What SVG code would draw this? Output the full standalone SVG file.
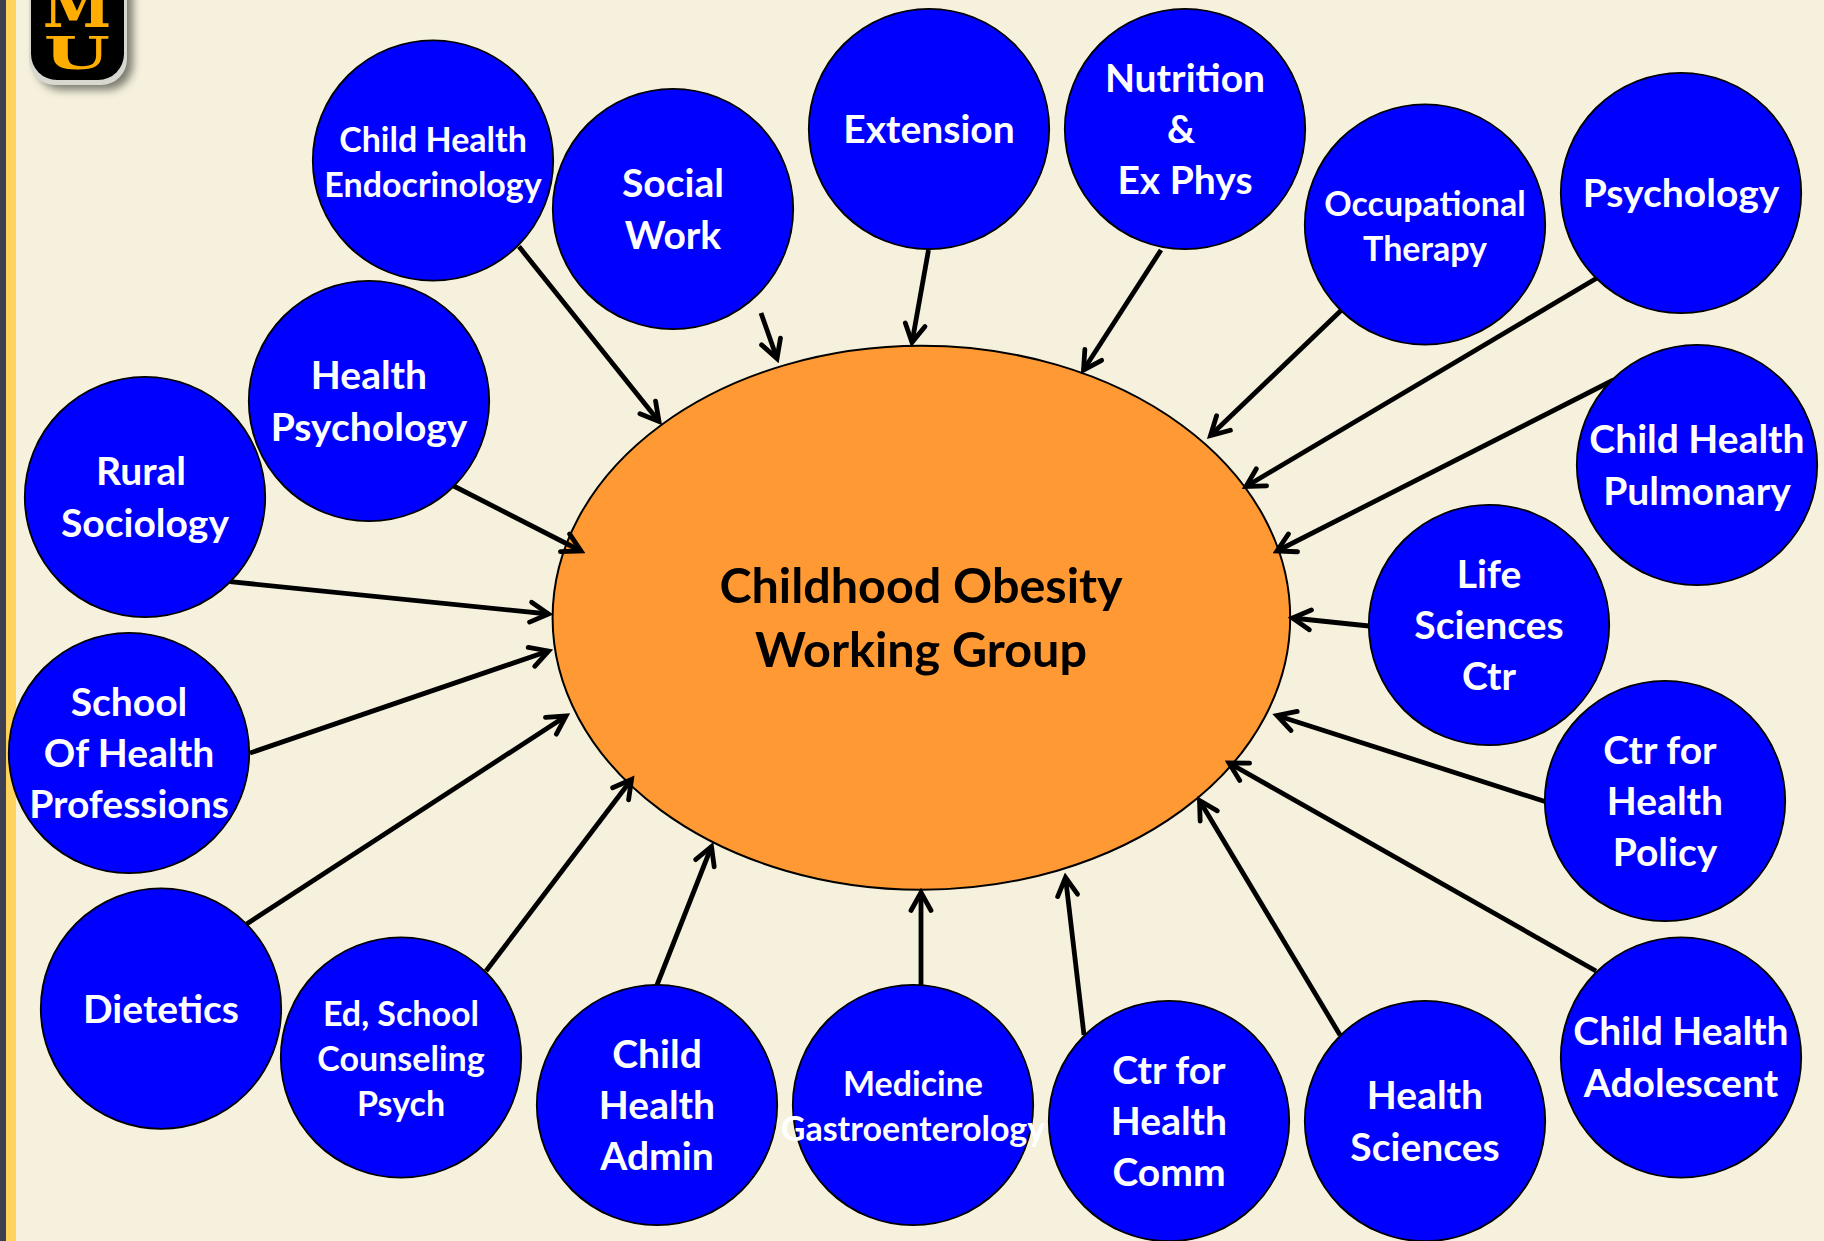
<svg xmlns="http://www.w3.org/2000/svg" width="1824" height="1241" viewBox="0 0 1824 1241">
<style>
.n{fill:#0000ff;stroke:#000;stroke-width:1.8}
.t{font-family:Lato,"Open Sans",sans-serif;font-weight:700;fill:#fff;text-anchor:middle}
.l{font-size:39px}
.s{font-size:34px}
.b{font-family:Lato,"Open Sans",sans-serif;font-weight:700;font-size:48.5px;text-anchor:middle;fill:#000}
.m{font-family:"DejaVu Serif",serif;font-weight:700;fill:#ffad00;text-anchor:middle}
.c{stroke:#000;stroke-width:4.8;fill:none;marker-end:url(#a)}
</style>
<defs>
<marker id="a" markerUnits="userSpaceOnUse" markerWidth="30" markerHeight="30" refX="25" refY="15" orient="auto">
<path d="M7,5 L25,15 L7,25" fill="none" stroke="#000" stroke-width="4.8" stroke-linecap="round" stroke-linejoin="miter"/>
</marker>
<filter id="sh" x="-20%" y="-20%" width="150%" height="150%"><feGaussianBlur stdDeviation="4"/></filter>
</defs>
<rect width="1824" height="1241" fill="#f5f1dd"/>
<rect x="0" y="0" width="6" height="1241" fill="#3f3f52"/>
<rect x="6" y="0" width="10" height="1241" fill="#ffd35c"/>
<g id="logo">
<rect x="36" y="-40" width="97" height="130" rx="26" fill="#5f5f55" opacity=".8" filter="url(#sh)"/>
<rect x="29" y="-40" width="98" height="125" rx="26" fill="#d8d8d0"/>
<rect x="31" y="-40" width="93" height="120" rx="26" fill="#000"/>
<text class="m" x="77" y="27" font-size="62">M</text>
<text class="m" transform="translate(77 69) scale(1 .58)" font-size="76">U</text>
</g>
<g id="center">
<ellipse cx="921.4" cy="617.8" rx="368.8" ry="272" fill="#ff9933" stroke="#000" stroke-width="2"/>
<text class="b" x="921" y="603">Childhood Obesity</text>
<text class="b" x="921" y="667">Working Group</text>
</g>
<g id="connectors">
<line class="c" x1="519" y1="246.6" x2="659" y2="421.500"/>
<line class="c" x1="761" y1="313" x2="777" y2="358.500"/>
<line class="c" x1="928.5" y1="250" x2="912" y2="342.500"/>
<line class="c" x1="1161" y1="250" x2="1083.500" y2="370"/>
<line class="c" x1="1341" y1="310.6" x2="1210.500" y2="435.500"/>
<line class="c" x1="1597" y1="278" x2="1246" y2="486.500"/>
<line class="c" x1="1613.5" y1="380" x2="1277" y2="551"/>
<line class="c" x1="1369" y1="626" x2="1292.500" y2="618"/>
<line class="c" x1="1545" y1="801.5" x2="1277" y2="715.500"/>
<line class="c" x1="1596" y1="971" x2="1229" y2="763"/>
<line class="c" x1="1340" y1="1035" x2="1199.500" y2="800.500"/>
<line class="c" x1="1084" y1="1035" x2="1065.500" y2="877.500"/>
<line class="c" x1="921" y1="985" x2="921" y2="892.500"/>
<line class="c" x1="657" y1="985" x2="711.500" y2="846.500"/>
<line class="c" x1="486" y1="971" x2="631.500" y2="779.500"/>
<line class="c" x1="246.6" y1="924" x2="566" y2="716"/>
<line class="c" x1="250" y1="753" x2="548.500" y2="651"/>
<line class="c" x1="230" y1="581.6" x2="548.500" y2="614"/>
<line class="c" x1="453.7" y1="486" x2="581" y2="551"/>
</g>
<g id="n-endo"><circle class="n" cx="433" cy="160.5" r="120.2"/><text class="t s" x="433" y="151.500">Child Health</text><text class="t s" x="433" y="196.600">Endocrinology</text></g>
<g id="n-social"><circle class="n" cx="673" cy="209" r="120.2"/><text class="t l" x="673" y="197">Social</text><text class="t l" x="673" y="249">Work</text></g>
<g id="n-extension"><circle class="n" cx="929" cy="129" r="120.2"/><text class="t l" x="929" y="143">Extension</text></g>
<g id="n-nutrition"><circle class="n" cx="1185" cy="129" r="120.2"/><text class="t l" x="1185" y="92">Nutrition</text><text class="t l" x="1181" y="143">&amp;</text><text class="t l" x="1185" y="194">Ex Phys</text></g>
<g id="n-ot"><circle class="n" cx="1425" cy="224.500" r="120.2"/><text class="t s" x="1425" y="215.500">Occupational</text><text class="t s" x="1425" y="260.700">Therapy</text></g>
<g id="n-psychology"><circle class="n" cx="1681" cy="193" r="120.2"/><text class="t l" x="1681" y="207">Psychology</text></g>
<g id="n-pulmonary"><circle class="n" cx="1697" cy="465" r="120.2"/><text class="t l" x="1697" y="452.500">Child Health</text><text class="t l" x="1697" y="504.900">Pulmonary</text></g>
<g id="n-life"><circle class="n" cx="1489" cy="625" r="120.2"/><text class="t l" x="1489" y="587.500">Life</text><text class="t l" x="1489" y="638.700">Sciences</text><text class="t l" x="1489" y="689.800">Ctr</text></g>
<g id="n-policy"><circle class="n" cx="1665" cy="801" r="120.2"/><text class="t l" x="1660" y="764.300">Ctr for</text><text class="t l" x="1665" y="815">Health</text><text class="t l" x="1665" y="866.200">Policy</text></g>
<g id="n-adolescent"><circle class="n" cx="1681" cy="1057.500" r="120.2"/><text class="t l" x="1681" y="1044.600">Child Health</text><text class="t l" x="1681" y="1097">Adolescent</text></g>
<g id="n-healthsci"><circle class="n" cx="1425" cy="1121" r="120.2"/><text class="t l" x="1425" y="1109">Health</text><text class="t l" x="1425" y="1161">Sciences</text></g>
<g id="n-comm"><circle class="n" cx="1169" cy="1121" r="120.2"/><text class="t l" x="1169" y="1084.200">Ctr for</text><text class="t l" x="1169" y="1135.400">Health</text><text class="t l" x="1169" y="1186">Comm</text></g>
<g id="n-medicine"><circle class="n" cx="913" cy="1105" r="120.2"/><text class="t s" x="913" y="1095.900">Medicine</text><text class="t s" x="913" y="1141.200">Gastroenterology</text></g>
<g id="n-admin"><circle class="n" cx="657" cy="1105" r="120.2"/><text class="t l" x="657" y="1067.900">Child</text><text class="t l" x="657" y="1119.100">Health</text><text class="t l" x="657" y="1170.300">Admin</text></g>
<g id="n-ed"><circle class="n" cx="401" cy="1057.500" r="120.2"/><text class="t s" x="401" y="1026">Ed, School</text><text class="t s" x="401" y="1071.400">Counseling</text><text class="t s" x="401" y="1116">Psych</text></g>
<g id="n-dietetics"><circle class="n" cx="161" cy="1008.600" r="120.2"/><text class="t l" x="161" y="1022.500">Dietetics</text></g>
<g id="n-school"><circle class="n" cx="129" cy="753" r="120.2"/><text class="t l" x="129" y="716">School</text><text class="t l" x="129" y="767">Of Health</text><text class="t l" x="129" y="818">Professions</text></g>
<g id="n-rural"><circle class="n" cx="145" cy="497" r="120.2"/><text class="t l" x="141" y="485">Rural</text><text class="t l" x="145" y="537">Sociology</text></g>
<g id="n-healthpsych"><circle class="n" cx="369" cy="401" r="120.2"/><text class="t l" x="369" y="388.500">Health</text><text class="t l" x="369" y="440.900">Psychology</text></g>
</svg>
